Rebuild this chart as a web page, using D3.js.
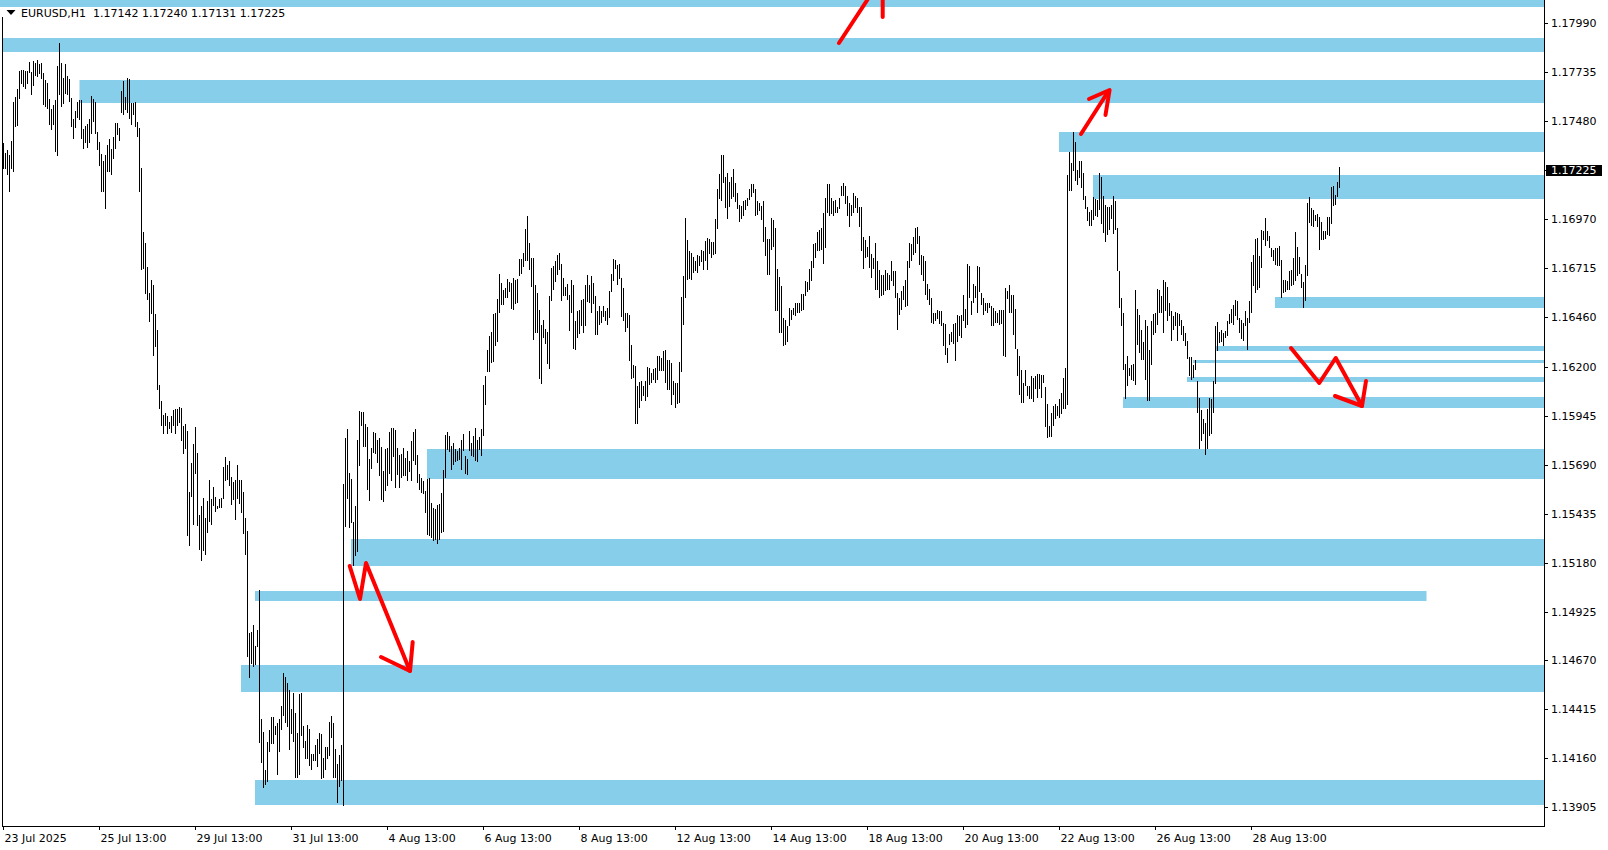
<!DOCTYPE html>
<html><head><meta charset="utf-8">
<script src="https://cdn.jsdelivr.net/npm/d3@7"></script>
<style>
html,body{margin:0;padding:0;background:#fff;overflow:hidden}
svg{display:block}
text{font-family:"DejaVu Sans",sans-serif;font-size:11px;fill:#000}
</style>
</head><body>
<svg id="c" width="1608" height="850"></svg>
<script>
// ---- H1 bar highs / lows (EURUSD, 23 Jul 13:00 ... 29 Aug) ----
const highs = [
1.17367,1.17315,1.17331,1.17305,1.17378,1.17579,1.17606,1.17647,1.17740,1.17745,
1.17749,1.17744,1.17740,1.17788,1.17736,1.17794,1.17785,1.17797,1.17776,1.17781,
1.17731,1.17695,1.17677,1.17593,1.17546,1.17564,1.17588,1.17767,1.17887,1.17785,
1.17704,1.17776,1.17713,1.17701,1.17602,1.17493,1.17534,1.17579,1.17588,1.17588,
1.17439,1.17457,1.17466,1.17493,1.17609,1.17597,1.17582,1.17426,1.17373,1.17310,
1.17274,1.17306,1.17355,1.17385,1.17337,1.17400,1.17468,1.17471,1.17444,1.17638,
1.17690,1.17606,1.17706,1.17701,1.17573,1.17575,1.17582,1.17477,1.17444,1.17235,
1.16903,1.16844,1.16722,1.16584,1.16652,1.16625,1.16477,1.16394,1.16106,1.16020,
1.15948,1.15962,1.15944,1.15912,1.15943,1.15975,1.15979,1.15980,1.15993,1.15987,
1.15891,1.15903,1.15867,1.15550,1.15697,1.15796,1.15889,1.15751,1.15428,1.15473,
1.15514,1.15414,1.15500,1.15608,1.15509,1.15575,1.15522,1.15477,1.15513,1.15518,
1.15679,1.15728,1.15688,1.15710,1.15625,1.15599,1.15611,1.15688,1.15608,1.15608,
1.15550,1.15410,
1.15347,1.14811,1.14820,1.14853,1.14745,1.14829,1.15035,1.14364,1.14298,1.14100,
1.14246,1.14308,1.14376,1.14377,1.14329,1.14346,1.14364,1.14433,1.14606,1.14586,
1.14551,1.14515,1.14416,1.14502,1.14398,1.14294,1.14497,1.14499,1.14329,1.14251,
1.14334,1.14315,1.14182,1.14185,1.14230,1.14260,1.14294,1.14286,1.14164,1.14221,
1.14220,1.14352,1.14381,1.14343,1.14208,1.14129,1.14178,1.14230,1.15587,1.15829,
1.15876,1.15647,1.15613,1.15391,1.15477,1.15821,1.15968,1.15963,1.15965,1.15904,
1.15887,1.15720,1.15777,1.15861,1.15855,1.15821,1.15829,1.15781,1.15656,1.15772,
1.15777,1.15861,1.15882,1.15882,1.15873,1.15777,1.15743,1.15746,1.15777,1.15725,
1.15764,1.15708,1.15816,1.15859,1.15876,1.15743,1.15644,1.15621,1.15604,1.15552,
1.15616,1.15621,1.15491,1.15465,1.15457,1.15479,1.15483,1.15543,1.15665,1.15847,
1.15861,1.15838,1.15786,1.15803,1.15772,1.15760,1.15777,1.15817,1.15852,1.15738,
1.15722,1.15864,1.15803,1.15838,1.15882,1.15821,1.15833,
1.15878,1.16107,1.16150,1.16286,1.16359,1.16379,1.16475,1.16483,1.16555,1.16685,
1.16636,1.16601,1.16610,1.16657,1.16640,1.16636,1.16662,1.16653,1.16657,1.16763,
1.16763,1.16792,1.16917,1.16987,1.16844,1.16766,1.16766,1.16627,1.16584,1.16497,
1.16419,1.16445,1.16397,1.16379,1.16567,1.16714,1.16723,1.16749,1.16784,1.16792,
1.16737,1.16662,1.16614,1.16633,1.16575,1.16653,1.16627,1.16437,1.16492,1.16494,
1.16549,1.16553,1.16627,1.16679,1.16624,1.16671,1.16636,1.16567,1.16489,1.16515,
1.16489,1.16515,1.16489,1.16506,1.16593,1.16685,1.16761,1.16758,1.16732,1.16737,
1.16662,1.16610,1.16483,1.16480,1.16471,1.16312,1.16208,1.16206,1.16098,1.16119,
1.16124,1.16098,1.16124,1.16197,1.16194,1.16168,1.16190,1.16194,1.16254,1.16258,
1.16246,1.16281,1.16289,1.16237,1.16237,1.16220,1.16128,1.16116,1.16116,1.16223,
1.16562,1.16674,1.16974,1.16862,1.16806,1.16792,1.16770,1.16752,1.16784,1.16780,
1.16810,1.16801,1.16858,1.16870,1.16865,1.16853,1.16853,1.16971,1.17127,1.17205,
1.17304,1.17304,1.17191,1.17212,1.17165,1.17191,1.17229,1.17157,1.17104,1.17044,
1.17039,1.17066,1.17070,1.17078,1.17125,1.17151,1.17153,1.17125,1.17065,1.17052,
1.17039,1.17065,1.16928,1.16865,1.16867,1.16974,1.16966,1.16922,1.16711,1.16666,
1.16622,1.16454,1.16445,1.16414,1.16506,1.16497,1.16509,1.16532,1.16532,1.16535,
1.16581,1.16581,1.16645,1.16641,1.16711,1.16749,1.16841,1.16844,1.16900,1.16914,
1.16922,1.17004,1.17078,1.17153,1.17153,1.17078,1.17065,1.17070,1.17035,1.17078,
1.17143,1.17160,1.17143,1.17091,1.17052,1.17044,1.17104,1.17091,1.17078,1.17032,
1.17035,1.16876,1.16862,1.16827,1.16882,1.16789,1.16766,1.16844,1.16749,1.16706,
1.16679,1.16679,1.16706,1.16688,1.16679,1.16752,1.16697,1.16697,1.16584,1.16558,
1.16593,1.16619,1.16653,1.16749,1.16844,1.16841,1.16879,1.16922,1.16928,1.16882,
1.16784,1.16775,1.16754,1.16633,1.16605,1.16558,1.16483,1.16480,1.16494,1.16489,
1.16489,1.16428,1.16424,1.16298,1.16372,1.16381,1.16423,1.16428,1.16471,1.16466,
1.16471,1.16575,1.16501,1.16737,1.16723,1.16541,1.16633,1.16619,1.16726,1.16719,
1.16584,1.16558,1.16535,1.16532,1.16535,1.16515,1.16506,1.16489,1.16483,1.16494,
1.16497,1.16497,1.16610,1.16596,1.16627,1.16575,1.16575,1.16501,1.16293,1.16258,
1.16185,1.16116,1.16185,1.16098,1.16102,
1.16151,1.16143,1.16151,1.16165,1.16165,1.16160,1.16160,1.16094,1.16004,1.15891,
1.15961,1.15995,1.16004,1.15995,1.16030,1.16065,1.16143,1.16195,1.17201,1.17322,
1.17262,1.17426,1.17369,1.17227,1.17270,1.17274,1.17209,1.17088,1.17033,1.17005,
1.17019,1.17083,1.17076,1.17067,1.17209,1.17189,1.17088,1.17045,1.17033,1.17033,
1.17045,1.17092,1.17062,1.16923,1.16698,1.16559,1.16481,1.16217,1.16259,1.16195,
1.16212,1.16215,1.16602,1.16502,1.16472,1.16394,1.16328,1.16446,1.16412,1.16290,
1.16438,1.16476,1.16481,1.16606,1.16599,1.16568,1.16654,1.16641,1.16616,1.16533,
1.16490,1.16467,1.16484,1.16481,1.16477,1.16446,1.16412,1.16377,1.16337,1.16250,
1.16252,1.16207,1.16234,1.16125,1.16038,1.15974,1.15926,1.15908,1.15978,1.16038,
1.16033,1.16125,1.16412,1.16432,1.16380,1.16391,1.16377,1.16385,1.16438,1.16477,
1.16502,1.16524,1.16550,1.16542,1.16455,1.16446,1.16429,1.16490,1.16455,1.16542,
1.16745,1.16784,1.16866,1.16871,1.16776,1.16915,1.16906,1.16975,1.16906,1.16880,
1.16819,1.16807,1.16819,1.16819,1.16828,1.16758,1.16654,1.16651,1.16646,1.16698,
1.16706,1.16767,1.16901,1.16824,1.16772,1.16686,1.16641,1.16732,1.17053,1.17085,
1.17027,1.17019,1.16993,1.16996,1.16981,1.16953,1.16906,1.16906,1.16981,1.16981,
1.17137,1.17144,1.17097,1.17161,1.17240
];
const lows = [
1.17229,1.17233,1.17199,1.17109,1.17233,1.17213,1.17450,1.17453,1.17593,1.17674,
1.17659,1.17650,1.17672,1.17729,1.17618,1.17665,1.17713,1.17708,1.17726,1.17701,
1.17566,1.17552,1.17543,1.17462,1.17432,1.17459,1.17319,1.17301,1.17615,1.17552,
1.17570,1.17620,1.17615,1.17579,1.17451,1.17389,1.17443,1.17495,1.17486,1.17389,
1.17337,1.17364,1.17342,1.17367,1.17412,1.17475,1.17412,1.17328,1.17244,1.17111,
1.17113,1.17025,1.17215,1.17215,1.17202,1.17283,1.17337,1.17408,1.17376,1.17521,
1.17511,1.17539,1.17525,1.17489,1.17462,1.17511,1.17450,1.17396,1.17109,1.16704,
1.16708,1.16579,1.16548,1.16432,1.16477,1.16256,1.16303,1.16079,1.15980,1.15894,
1.15849,1.15894,1.15849,1.15876,1.15853,1.15891,1.15849,1.15894,1.15909,1.15814,
1.15747,1.15772,1.15321,1.15267,1.15523,1.15375,1.15643,1.15371,1.15246,1.15190,
1.15240,1.15222,1.15335,1.15392,1.15378,1.15473,1.15446,1.15461,1.15464,1.15464,
1.15509,1.15604,1.15611,1.15581,1.15482,1.15505,1.15401,1.15509,1.15486,1.15437,
1.15330,1.15222,
1.14688,1.14580,1.14650,1.14638,1.14645,1.14740,1.14242,1.14138,1.14008,1.14022,
1.14039,1.14195,1.14237,1.14237,1.14282,1.14074,1.14195,1.14308,1.14381,1.14343,
1.14325,1.14204,1.14286,1.14247,1.14060,1.14060,1.14074,1.14277,1.14216,1.14155,
1.14155,1.14121,1.14100,1.14147,1.14147,1.14117,1.14182,1.14051,1.14060,1.14100,
1.14155,1.14173,1.14265,1.14057,1.14057,1.13930,1.14013,1.14043,1.13913,1.15366,
1.15512,1.15361,1.15387,1.15162,1.15214,1.15234,1.15685,1.15890,1.15781,1.15781,
1.15557,1.15500,1.15670,1.15751,1.15746,1.15699,1.15630,1.15505,1.15495,1.15552,
1.15578,1.15644,1.15604,1.15729,1.15569,1.15639,1.15568,1.15621,1.15633,1.15630,
1.15604,1.15651,1.15604,1.15708,1.15691,1.15595,1.15557,1.15543,1.15538,1.15439,
1.15326,1.15318,1.15309,1.15292,1.15300,1.15278,1.15300,1.15335,1.15338,1.15621,
1.15765,1.15755,1.15661,1.15687,1.15705,1.15708,1.15713,1.15665,1.15760,1.15644,
1.15639,1.15760,1.15734,1.15731,1.15708,1.15705,1.15769,
1.15738,1.15838,1.16003,1.16171,1.16171,1.16220,1.16223,1.16307,1.16327,1.16480,
1.16523,1.16520,1.16558,1.16558,1.16588,1.16501,1.16494,1.16529,1.16535,1.16674,
1.16683,1.16718,1.16754,1.16749,1.16702,1.16615,1.16341,1.16376,1.16376,1.16138,
1.16110,1.16350,1.16319,1.16215,1.16190,1.16541,1.16601,1.16641,1.16676,1.16702,
1.16541,1.16570,1.16570,1.16546,1.16388,1.16480,1.16294,1.16286,1.16350,1.16371,
1.16411,1.16376,1.16411,1.16537,1.16532,1.16480,1.16529,1.16367,1.16367,1.16419,
1.16431,1.16459,1.16437,1.16416,1.16454,1.16588,1.16645,1.16709,1.16627,1.16657,
1.16459,1.16437,1.16381,1.16402,1.16228,1.16138,1.16142,1.15902,1.15902,1.15986,
1.16020,1.16046,1.16020,1.16041,1.16107,1.16116,1.16133,1.16116,1.16133,1.16176,
1.16176,1.16176,1.16116,1.16078,1.16078,1.16003,1.16055,1.15986,1.16008,1.16012,
1.16173,1.16416,1.16558,1.16650,1.16657,1.16653,1.16688,1.16697,1.16688,1.16723,
1.16745,1.16706,1.16754,1.16706,1.16789,1.16766,1.16784,1.16787,1.16917,1.17073,
1.17065,1.17160,1.17026,1.16971,1.17035,1.17073,1.17087,1.17058,1.17021,1.16957,
1.16971,1.16987,1.17018,1.17039,1.17070,1.17087,1.17104,1.16987,1.16992,1.17013,
1.16966,1.16848,1.16775,1.16676,1.16679,1.16810,1.16827,1.16489,1.16489,1.16376,
1.16376,1.16307,1.16312,1.16327,1.16414,1.16445,1.16468,1.16463,1.16480,1.16480,
1.16492,1.16497,1.16567,1.16588,1.16601,1.16648,1.16714,1.16766,1.16801,1.16801,
1.16810,1.16735,1.16818,1.17004,1.16987,1.16997,1.16987,1.17004,1.17000,1.17021,
1.17091,1.17091,1.17047,1.16987,1.16931,1.16987,1.17004,1.17026,1.17004,1.16931,
1.16804,1.16709,1.16766,1.16771,1.16714,1.16662,1.16709,1.16601,1.16601,1.16558,
1.16567,1.16575,1.16593,1.16601,1.16598,1.16645,1.16619,1.16558,1.16390,1.16471,
1.16497,1.16549,1.16511,1.16515,1.16714,1.16749,1.16784,1.16792,1.16841,1.16732,
1.16676,1.16645,1.16572,1.16546,1.16523,1.16428,1.16424,1.16437,1.16450,1.16424,
1.16411,1.16310,1.16263,1.16220,1.16315,1.16332,1.16320,1.16232,1.16332,1.16359,
1.16350,1.16437,1.16402,1.16419,1.16558,1.16471,1.16532,1.16558,1.16480,1.16588,
1.16523,1.16471,1.16489,1.16480,1.16506,1.16414,1.16411,1.16428,1.16428,1.16416,
1.16424,1.16254,1.16251,1.16553,1.16480,1.16480,1.16364,1.16293,1.16150,1.16055,
1.16012,1.16012,1.16098,1.16046,1.16032,
1.16033,1.16016,1.16085,1.16039,1.16085,1.16039,1.16117,1.15888,1.15830,1.15834,
1.15834,1.15891,1.15926,1.15943,1.15934,1.15952,1.15978,1.15978,1.16000,1.17118,
1.17114,1.17218,1.17166,1.17149,1.17183,1.17131,1.17071,1.17022,1.16961,1.16932,
1.16935,1.16967,1.16984,1.16981,1.17019,1.16944,1.16897,1.16850,1.16889,1.16915,
1.16970,1.16894,1.16915,1.16698,1.16507,1.16412,1.16186,1.16030,1.16099,1.16151,
1.16134,1.16125,1.16104,1.16316,1.16273,1.16238,1.16238,1.16134,1.16021,1.16021,
1.16212,1.16368,1.16377,1.16420,1.16481,1.16481,1.16377,1.16490,1.16438,1.16464,
1.16333,1.16394,1.16412,1.16333,1.16412,1.16368,1.16333,1.16307,1.16241,1.16151,
1.16130,1.16143,1.16186,1.15960,1.15770,1.15813,1.15848,1.15740,1.15770,1.15842,
1.15848,1.15960,1.16108,1.16281,1.16325,1.16328,1.16307,1.16351,1.16359,1.16425,
1.16429,1.16420,1.16464,1.16446,1.16377,1.16346,1.16333,1.16412,1.16290,1.16429,
1.16481,1.16620,1.16585,1.16602,1.16611,1.16715,1.16863,1.16831,1.16854,1.16819,
1.16772,1.16750,1.16732,1.16724,1.16727,1.16559,1.16585,1.16588,1.16599,1.16602,
1.16620,1.16628,1.16646,1.16672,1.16686,1.16611,1.16507,1.16542,1.16672,1.16949,
1.16932,1.16928,1.16958,1.16928,1.16811,1.16863,1.16863,1.16866,1.16889,1.16880,
1.16946,1.17039,1.17045,1.17083,1.17131
];

// ---- axis labels ----
const timeLabels = ["23 Jul 2025","25 Jul 13:00","29 Jul 13:00","31 Jul 13:00","4 Aug 13:00","6 Aug 13:00",
  "8 Aug 13:00","12 Aug 13:00","14 Aug 13:00","18 Aug 13:00","20 Aug 13:00","22 Aug 13:00","26 Aug 13:00","28 Aug 13:00"];
const barsPerLabel = 48;
const priceTicks = [1.17990,1.17735,1.17480,1.17225,1.16970,1.16715,1.16460,1.16200,1.15945,1.15690,
  1.15435,1.15180,1.14925,1.14670,1.14415,1.14160,1.13905];

// ---- header (symbol, timeframe, last OHLC) ----
const symbolTitle = "EURUSD,H1";
const lastOHLC = [1.17142, 1.17240, 1.17131, 1.17225];

// ---- supply / demand zones (price top, price bottom, start bar, end bar; null = right edge) ----
const zoneTop    = [1.18200,1.17912,1.17695,1.17424,1.17200,1.16565,1.16307,1.16238,1.16145,1.16041,1.15774,1.15301,1.15030,1.14645,1.14047];
const zoneBottom = [1.18073,1.17842,1.17577,1.17322,1.17077,1.16505,1.16281,1.16218,1.16119,1.15983,1.15615,1.15162,1.14980,1.14506,1.13918];
const zoneStart  = [-1.75,-0.25,38,527.75,544.75,635.75,606.1,594.75,591.75,559.75,211.75,173.75,125.75,118.75,125.75];
const zoneEnd    = [null,null,null,null,null,null,null,null,null,null,null,null,711.5,null,null];

// ---- hand-drawn red arrows: [bar, price] vertices ----
const arrowPaths = [
  [[417.75,1.17887],[431.9,1.18111]],
  [[439.6,1.18140],[439.6,1.18024]],
  [[538.75,1.17414],[552.5,1.17637]],
  [[542.75,1.17598],[553.05,1.17643],[551,1.17513]],
  [[173.1,1.15160],[178.25,1.14989],[181.25,1.15176],[203.25,1.14615]],
  [[188.75,1.14688],[203.25,1.14615],[204.6,1.14766]],
  [[643.75,1.16296],[657.9,1.16116],[666.1,1.16246],[679.25,1.15998]],
  [[665.75,1.16047],[679.25,1.15998],[681.25,1.16126]]
];

// ================= drawing =================
const svg = d3.select('#c');
const plotL = 2, plotR = 1544, plotB = 826;
const nBars = Math.min(highs.length, lows.length);
const x = d3.scaleLinear().domain([0, 668]).range([3.5, 1339.5]);
const y = d3.scaleLinear().domain([1.13905, 1.17990]).range([807.3, 23.3]).interpolate(d3.interpolateRound);

svg.append('defs').append('clipPath').attr('id','plot')
  .append('rect').attr('x',0).attr('y',0).attr('width',plotR).attr('height',plotB);

const g = svg.append('g').attr('clip-path','url(#plot)');

// zones
g.append('g').selectAll('rect').data(zoneTop.map((t,i)=>i)).join('rect')
  .attr('x', i => x(zoneStart[i]))
  .attr('y', i => y(zoneTop[i]))
  .attr('width', i => (zoneEnd[i] == null ? plotR : x(zoneEnd[i])) - x(zoneStart[i]))
  .attr('height', i => y(zoneBottom[i]) - y(zoneTop[i]))
  .attr('fill', '#87CEEB');

// bars
g.append('g').attr('stroke','#000').attr('stroke-width',1).attr('shape-rendering','crispEdges')
  .selectAll('line').data(d3.range(nBars)).join('line')
  .attr('x1', i => x(i)).attr('x2', i => x(i))
  .attr('y1', i => y(highs[i]))
  .attr('y2', i => Math.max(y(lows[i]), y(highs[i]) + 1));

// arrows
const line = d3.line().x(d => x(d[0])).y(d => y(d[1]));
g.append('g').selectAll('path').data(arrowPaths).join('path')
  .attr('d', line).attr('fill','none').attr('stroke','#FF0000')
  .attr('stroke-width',4).attr('stroke-linecap','round').attr('stroke-linejoin','round');

// frame lines
svg.append('line').attr('x1',plotL+0.5).attr('x2',plotL+0.5).attr('y1',17).attr('y2',plotB+0.5)
  .attr('stroke','#000').attr('shape-rendering','crispEdges');
svg.append('line').attr('x1',plotR+0.5).attr('x2',plotR+0.5).attr('y1',0).attr('y2',plotB+0.5)
  .attr('stroke','#000').attr('shape-rendering','crispEdges');
svg.append('line').attr('x1',plotL).attr('x2',plotR+1).attr('y1',plotB+0.5).attr('y2',plotB+0.5)
  .attr('stroke','#000').attr('shape-rendering','crispEdges');

// right price axis
const ya = svg.append('g').attr('transform',`translate(${plotR},0)`)
  .call(d3.axisRight(y).tickValues(priceTicks).tickSize(4).tickFormat(d => d.toFixed(5)));
ya.select('.domain').remove();
ya.selectAll('text').attr('x',7).style('font-family','"DejaVu Sans",sans-serif').style('font-size','11px').attr('fill','#000');
ya.selectAll('line').attr('shape-rendering','crispEdges');

// bottom time axis
const xa = svg.append('g').attr('transform',`translate(0,${plotB})`)
  .call(d3.axisBottom(x).offset(0).tickValues(timeLabels.map((t,i)=>i*barsPerLabel)).tickSize(4)
    .tickFormat((d,i) => timeLabels[i]));
xa.select('.domain').remove();
xa.selectAll('line').attr('shape-rendering','crispEdges');
xa.selectAll('text').attr('text-anchor','start').attr('x',1).attr('y',8)
  .style('font-family','"DejaVu Sans",sans-serif').style('font-size','11px').attr('fill','#000');

// current price label
const lp = lastOHLC[3];
svg.append('rect').attr('x',1546).attr('y',y(lp)-5).attr('width',56).attr('height',11).attr('fill','#000');
svg.append('text').attr('x',1551).attr('y',y(lp)).attr('dy','0.36em').style('fill','#fff')
  .text(lp.toFixed(5));

// header
svg.append('path').attr('d','M6.5,10L15.5,10L11,15Z').attr('fill','#000');
svg.append('text').attr('x',21).attr('y',17).attr('xml:space','preserve').style('white-space','pre')
  .text(symbolTitle + '  ' + lastOHLC.map(v => v.toFixed(5)).join(' '));
</script>
</body></html>
